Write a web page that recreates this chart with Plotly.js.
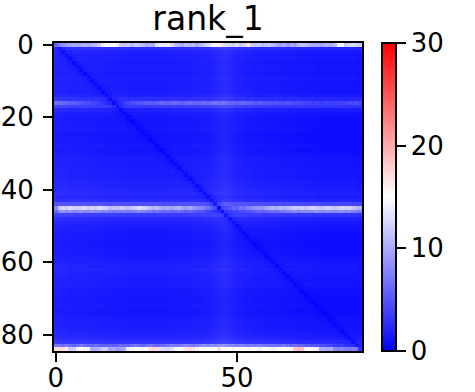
<!DOCTYPE html>
<html>
<head>
<meta charset="utf-8">
<script src="https://cdn.plot.ly/plotly-3.0.1.min.js"></script>
<style>html,body{margin:0;padding:0;background:#fff;}#chart{width:475px;height:392px;}</style>
</head>
<body>
<div id="chart"></div>
<script>
// Matrix size (0..84)
const N = 85;
const titleText = "rank_1";
const xTickVals = [0, 50];
const yTickVals = [0, 20, 40, 60, 80];
const cbTickVals = [0, 10, 20, 30];

// Typical level of each row
const rowProfile = [
  0, 2.6, 1.9, 1.6, 1.7, 1.5, 1.6, 1.6, 1.5, 1.7,
  1.6, 1.5, 1.6, 1.6, 1.9, 2.6, 5.0, 3.4, 1.9, 1.5,
  1.3, 1.2, 1.2, 1.3, 1.2, 1.1, 1.1, 1.2, 1.3, 1.2,
  1.3, 1.5, 1.6, 1.5, 1.6, 1.7, 1.6, 1.7, 1.9, 1.9,
  2.1, 2.3, 2.0, 2.5, 4.5, 11, 7.0, 3.4, 2.2, 1.8,
  1.6, 1.5, 1.3, 1.2, 1.2, 1.1, 1.2, 1.2, 1.3, 1.5,
  1.6, 1.7, 1.9, 1.7, 1.6, 1.5, 1.6, 1.5, 1.3, 1.3,
  1.2, 1.2, 1.3, 1.2, 1.2, 1.3, 1.5, 1.5, 1.6, 1.7,
  1.9, 2.2, 2.8, 6.0, 15
];

// Column offset (vertical light stripe near 46, darker right side)
const colProfile = [
  0.5, 0.4, 0.4, 0.4, 0.3, 0.3, 0.3, 0.3, 0.3, 0.3,
  0.2, 0.2, 0.2, 0.2, 0.1, 0.1, 0.1, 0.1, 0.1, 0.1,
  0, 0, 0, 0, 0, 0, 0, 0, 0, 0,
  0, 0, 0.1, 0.1, 0.1, 0.1, 0.1, 0.1, 0.2, 0.2,
  0.2, 0.3, 0.3, 0.4, 0.5, 0.7, 0.9, 0.9, 0.7, 0.5,
  0.3, 0.3, 0.2, 0.1, 0.1, 0, 0, 0, -0.1, -0.1,
  -0.1, -0.1, -0.1, -0.2, -0.2, -0.2, -0.2, -0.3, -0.3, -0.3,
  -0.3, -0.3, -0.4, -0.4, -0.4, -0.4, -0.4, -0.4, -0.4, -0.4,
  -0.4, -0.4, -0.4, -0.5, -0.5
];

// Rows with their own reading, cell by cell
const row0 = [
  6, 7.5, 8.5, 9, 9.5, 10, 9.5, 10, 10.5, 10,
  10.5, 11, 12, 14, 15, 14.5, 15, 14, 12, 11.5,
  12, 11, 12, 11.5, 11, 10, 10.5, 10, 13, 14,
  13.5, 14, 13, 11, 10.5, 10, 11, 10.5, 11, 10,
  11, 12, 12.5, 14, 15, 14.5, 17, 13, 12.5, 12,
  13, 12, 12.5, 16.5, 12, 11.5, 12, 11, 11.5, 12,
  11, 10, 9.5, 10, 9, 10, 9.5, 11, 11.5, 11,
  10.5, 10, 10, 9.5, 10, 10.5, 10, 11, 14.5, 14.5,
  12, 12.5, 13, 12.5, 12
];
const row16 = [
  6.5, 6.5, 6, 6, 5.5, 5.5, 5, 5, 4.5, 4.5,
  4, 4, 3.5, 3, 2.5, 2, 0.5, 2, 2.5, 3.5,
  4, 4.5, 4.5, 5, 5, 5.5, 5.5, 5, 5.5, 6,
  6, 5.5, 6, 6.5, 6, 5.5, 6, 6.5, 6, 6,
  6, 6.5, 6, 6.5, 7, 6.5, 7, 6.5, 6, 6,
  5.5, 6, 6, 5.5, 5.5, 5, 5.5, 5, 5, 5,
  4.5, 5, 4.5, 4.5, 5, 4.5, 4, 4.5, 4, 4,
  4, 3.5, 4, 3.5, 3.5, 4, 3.5, 3.5, 4, 4,
  4, 4.5, 4, 4.5, 4
];
const row45 = [
  8, 12, 12.5, 12, 13, 12.5, 12, 12.5, 13, 12,
  12.5, 12, 13, 12.5, 12, 11, 11.5, 11, 12, 11.5,
  11, 11.5, 12, 13, 12.5, 12, 11, 10.5, 11, 10,
  9.5, 10, 9.5, 10, 10.5, 9.5, 9, 10, 9, 8.5,
  8, 7.5, 6.5, 5.5, 4.5, 0.5, 4, 4.5, 5, 6,
  5.5, 7, 6.5, 7.5, 8, 8.5, 9, 8.5, 9.5, 10,
  10.5, 10, 11, 10.5, 11, 11.5, 12, 11.5, 12, 11.5,
  12, 12.5, 12, 11.5, 12, 12.5, 12, 11.5, 12, 12.5,
  12, 12.5, 11.5, 11, 10.5
];
const row46 = [
  6, 8, 8.5, 8, 8.5, 8, 8, 8.5, 8, 8,
  8.5, 8, 8, 7.5, 8, 7.5, 7, 7.5, 7, 7.5,
  7, 7, 7.5, 8, 7.5, 7, 7, 6.5, 7, 6.5,
  6, 6.5, 6, 6, 6.5, 6, 5.5, 6, 5.5, 5,
  5, 4.5, 4, 3.5, 3, 2.5, 0.5, 3, 3.5, 4,
  4, 4.5, 4.5, 5, 5, 5.5, 6, 5.5, 6, 6.5,
  6.5, 6.5, 7, 7, 7.5, 7.5, 8, 7.5, 8, 8,
  8, 8, 8.5, 8, 8, 8.5, 8, 8, 8.5, 8.5,
  8, 8, 7.5, 7.5, 7
];
const row83 = [
  7, 7, 6.5, 7, 6.5, 6, 6.5, 7, 6.5, 6,
  6, 6.5, 6, 5.5, 6, 6, 5.5, 6, 6.5, 6,
  6, 6.5, 7, 6.5, 6, 6.5, 7, 6.5, 6, 6.5,
  6.5, 7, 7.5, 7, 7, 7.5, 8, 7.5, 7, 7.5,
  8, 8.5, 8, 8.5, 8, 8.5, 9, 8.5, 8, 8,
  7.5, 8, 7.5, 7, 7.5, 7, 7.5, 7, 7, 6.5,
  7, 6.5, 6.5, 7, 6.5, 6, 6.5, 6, 6, 5.5,
  5.5, 5, 5, 4.5, 4.5, 4, 4, 3.5, 3.5, 3.5,
  3, 3, 2.5, 1.0, 2
];
const row84 = [
  17, 17.5, 17, 16, 12, 12, 14.5, 15, 14.5, 14,
  10, 10, 10.5, 12, 12, 9.5, 10, 9, 9.5, 10,
  14, 14.5, 15, 14.5, 14.5, 15, 17, 17.5, 17, 13,
  13, 12.5, 13, 14.5, 15, 14.5, 16.5, 17, 16.5, 16,
  15, 15.5, 15, 14.5, 15, 17, 15, 15.5, 15, 14.5,
  15, 15.5, 15, 14.5, 14.5, 15, 14, 14.5, 15, 14.5,
  14, 14.5, 15, 15, 15.5, 15, 18.5, 19, 18.5, 14.5,
  15, 14.5, 14, 10, 10, 9.5, 10, 8, 7.5, 8,
  7.5, 7, 7.5, 7, 3
];
const specialRows = {0: row0, 16: row16, 45: row45, 46: row46, 83: row83, 84: row84};
// Darkening toward the diagonal, by distance |i-j|
const diagFactor = [0.3, 0.75, 0.9];

const idx = Array.from({length: N}, (_, k) => k);
const z = idx.map(i => idx.map(j => {
  if (specialRows[i]) return specialRows[i][j];
  let v = rowProfile[i] + colProfile[j];
  const d = Math.abs(i - j);
  if (d < diagFactor.length) v *= diagFactor[d];
  return Math.max(0, v);
}));

const font = {family: "DejaVu Sans", size: 26, color: "#000"};

Plotly.newPlot("chart", [{
  type: "heatmap",
  x: idx, y: idx, z: z,
  zmin: 0, zmax: 30,
  zsmooth: false,
  hoverinfo: "skip",
  colorscale: [[0, "rgb(0,0,255)"], [0.5, "rgb(255,255,255)"], [1, "rgb(255,0,0)"]],
  colorbar: {
    x: 1.065, xanchor: "left", xref: "paper",
    y: 0.5, yanchor: "middle",
    len: 308, lenmode: "pixels",
    thickness: 14, xpad: 0, ypad: 0,
    outlinewidth: 2, outlinecolor: "#000",
    tickmode: "array", tickvals: cbTickVals,
    tickprefix: "\u00a0",
    ticks: "outside", ticklen: 9, tickwidth: 2, tickcolor: "#000",
    tickfont: font
  }
}], {
  width: 475, height: 392,
  margin: {l: 54, r: 113, t: 43, b: 41},
  paper_bgcolor: "#fff", plot_bgcolor: "#fff",
  font: font,
  title: {text: titleText, font: {family: "DejaVu Sans", size: 33, color: "#000"},
          x: 0.5, xref: "paper", y: 1 - 30/392, yref: "container", yanchor: "bottom"},
  xaxis: {
    range: [-0.5, 84.5], tickmode: "array", tickvals: xTickVals,
    ticks: "outside", ticklen: 9, tickwidth: 2, tickcolor: "#000",
    showline: true, mirror: true, linewidth: 2, linecolor: "#000",
    showgrid: false, zeroline: false, tickfont: font, ticklabelstandoff: -6
  },
  yaxis: {
    range: [84.5, -0.5], tickmode: "array", tickvals: yTickVals,
    ticks: "outside", ticklen: 9, tickwidth: 2, tickcolor: "#000",
    showline: true, mirror: true, linewidth: 2, linecolor: "#000",
    showgrid: false, zeroline: false, tickfont: font, ticklabelstandoff: 4
  }
}, {displayModeBar: false, staticPlot: true});
</script>
</body>
</html>
